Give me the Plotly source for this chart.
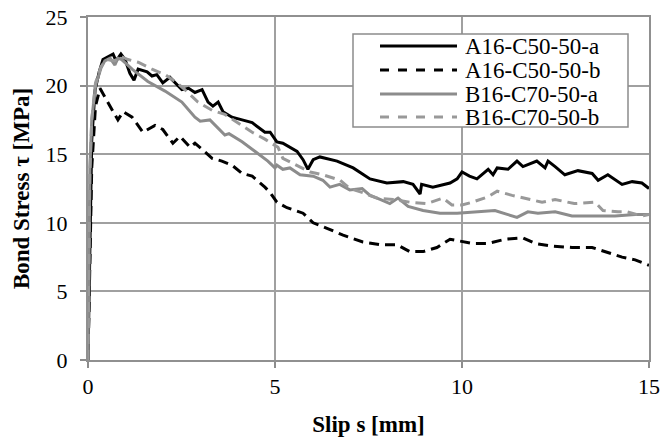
import plotly.graph_objects as go

# A16-C50-50-a (black solid)
aa_x = [0, 0.03, 0.06, 0.1, 0.19, 0.3, 0.4, 0.53, 0.67, 0.75, 0.88, 0.99, 1.12, 1.23, 1.34, 1.58, 1.71, 1.84,
        2.0, 2.19, 2.33, 2.51, 2.69, 2.86, 3.05, 3.21, 3.34, 3.48, 3.61, 3.85, 4.12, 4.39, 4.73, 4.87, 5.05,
        5.21, 5.59, 5.75, 5.88, 6.02, 6.2, 6.66, 7.09, 7.54, 7.99, 8.43, 8.69, 8.88, 8.92, 9.22, 9.68, 9.87,
        10.0, 10.2, 10.4, 10.7, 10.83, 10.94, 11.23, 11.47, 11.63, 12.0, 12.22, 12.3, 12.49, 12.75, 13.1,
        13.48, 13.64, 13.9, 14.28, 14.55, 14.81, 15.0]
aa_y = [0, 5, 12, 16, 19.7, 21.0, 21.9, 22.1, 22.3, 21.8, 22.3, 21.9, 20.9, 20.4, 21.2, 21.0, 20.7, 20.8,
        20.2, 20.6, 20.2, 19.7, 19.8, 19.5, 19.7, 18.8, 18.5, 18.8, 18.1, 17.7, 17.5, 17.3, 16.6, 16.6, 15.9,
        15.8, 15.2, 14.6, 13.9, 14.6, 14.8, 14.5, 14.0, 13.2, 12.9, 13.0, 12.8, 12.1, 12.8, 12.6, 12.9, 13.2,
        13.7, 13.4, 13.2, 13.9, 13.5, 14.0, 13.9, 14.5, 14.1, 14.5, 14.0, 14.5, 14.1, 13.5, 13.8,
        13.6, 13.1, 13.5, 12.8, 13.0, 12.9, 12.5]

# A16-C50-50-b (black dashed)
ab_x = [0, 0.05, 0.1, 0.2, 0.32, 0.59, 0.8, 0.94, 1.18, 1.47, 1.79, 2.0, 2.27, 2.46, 2.73, 2.86, 3.07, 3.32,
        3.58, 3.85, 4.12, 4.39, 4.73, 4.87, 5.05, 5.32, 5.75, 6.02, 6.39, 6.82, 7.35, 7.81, 8.26, 8.6, 8.96,
        9.33, 9.68, 10.13, 10.27, 10.7, 11.15, 11.63, 11.95, 12.4, 12.94, 13.48, 13.82, 14.28, 14.63, 15.0]
ab_y = [0, 8, 14, 18.5, 19.8, 18.5, 17.5, 18.1, 17.7, 16.6, 17.1, 16.8, 15.8, 16.3, 15.5, 15.8, 15.3, 14.7,
        14.5, 14.2, 13.6, 13.4, 12.6, 12.2, 11.5, 11.1, 10.7, 10.0, 9.6, 9.1, 8.6, 8.4, 8.4, 7.9, 7.9,
        8.2, 8.8, 8.6, 8.5, 8.5, 8.8, 8.9, 8.5, 8.3, 8.2, 8.2, 7.9, 7.5, 7.3, 6.9]

# B16-C70-50-a (grey solid)
ba_x = [0, 0.02, 0.05, 0.1, 0.2, 0.35, 0.45, 0.59, 0.72, 0.8, 0.9, 1.18, 1.6, 2.06, 2.51, 2.86, 3.0, 3.26,
        3.48, 3.66, 3.77, 4.12, 4.47, 4.81, 5.0, 5.05, 5.21, 5.4, 5.67, 6.02, 6.28, 6.47, 6.73, 7.0, 7.33,
        7.54, 7.81, 8.07, 8.29, 8.56, 8.96, 9.41, 9.87, 10.35, 10.88, 11.23, 11.47, 11.76, 12.03, 12.49,
        12.94, 13.56, 14.09, 14.63, 15.0]
ba_y = [0, 8, 14, 17.5, 20.0, 21.3, 21.8, 22.0, 21.5, 22.0, 21.9, 21.2, 20.3, 19.6, 18.8, 17.7, 17.4, 17.5,
        16.9, 16.4, 16.5, 15.9, 15.2, 14.5, 14.0, 14.2, 13.9, 14.0, 13.5, 13.4, 13.1, 12.6, 12.8, 12.4, 12.5,
        12.0, 11.7, 11.4, 11.8, 11.2, 10.9, 10.7, 10.7, 10.8, 10.9, 10.6, 10.4, 10.8, 10.7, 10.8,
        10.5, 10.5, 10.5, 10.6, 10.6]

# B16-C70-50-b (grey dashed)
bb_x = [0, 0.02, 0.05, 0.1, 0.2, 0.35, 0.5, 0.7, 0.9, 1.07, 1.34, 1.71, 2.06, 2.33, 2.59, 2.94, 3.32, 3.66,
        4.01, 4.39, 4.73, 5.08, 5.21, 5.59, 5.94, 6.28, 6.74, 7.0, 7.35, 7.73, 8.16, 8.61, 9.06, 9.49, 9.73,
        10.0, 10.27, 10.7, 10.94, 11.34, 11.87, 12.14, 12.49, 13.0, 13.56, 13.77, 14.17, 14.41, 14.81, 15.0]
bb_y = [0, 7, 13.5, 17.5, 20.2, 21.4, 21.9, 21.8, 22.1, 21.9, 21.7, 21.2, 20.8, 20.3, 19.7, 18.8, 18.2, 17.9,
        17.3, 16.6, 16.1, 15.5, 14.7, 14.2, 13.7, 13.5, 13.1, 12.5, 12.2, 11.8, 11.7, 11.5, 11.4, 11.8, 11.3,
        11.3, 11.5, 11.9, 12.3, 12.0, 11.7, 11.5, 11.7, 11.4, 11.5, 10.9, 10.8, 10.8, 10.5, 10.6]

names = ["A16-C50-50-a", "A16-C50-50-b", "B16-C70-50-a", "B16-C70-50-b"]
x_ticks = [0, 5, 10, 15]
y_ticks = [0, 5, 10, 15, 20, 25]

SERIF = "Liberation Serif, Times New Roman, serif"
BLACK = "#000000"
GREY = "#8c8c8c"
GREY2 = "#999999"
DASH = "10px,6px"

W, H = 661, 439
ML, MR, MT, MB = 88, 12, 17, 79
PW, PH = W - ML - MR, H - MT - MB


def px2paper(px, py):
    return (px - ML) / PW, (H - MB - py) / PH


fig = go.Figure()
series = [
    (aa_x, aa_y, names[0], BLACK, "solid"),
    (ab_x, ab_y, names[1], BLACK, DASH),
    (ba_x, ba_y, names[2], GREY, "solid"),
    (bb_x, bb_y, names[3], GREY2, DASH),
]
for xs, ys, nm, col, dash in series:
    fig.add_trace(go.Scatter(x=xs, y=ys, name=nm, mode="lines", showlegend=False,
                             line=dict(color=col, width=3, dash=dash)))

# Legend drawn as a box with line samples and text labels
shapes = []
annotations = []
bx0, by0 = px2paper(353, 127)
bx1, by1 = px2paper(628, 34)
shapes.append(dict(type="rect", xref="paper", yref="paper", x0=bx0, y0=by0, x1=bx1, y1=by1,
                   line=dict(color="#8c8c8c", width=1.5), fillcolor="white", layer="above"))
row_y = [46, 70, 94, 117]
for (xs, ys, nm, col, dash), ry in zip(series, row_y):
    lx0, ly = px2paper(380, ry)
    lx1, _ = px2paper(457, ry)
    shapes.append(dict(type="line", xref="paper", yref="paper", x0=lx0, y0=ly, x1=lx1, y1=ly,
                       line=dict(color=col, width=3, dash="dash" if dash != "solid" else "solid"),
                       layer="above"))
    tx, _ = px2paper(463, ry)
    annotations.append(dict(xref="paper", yref="paper", x=tx, y=ly, xanchor="left", yanchor="middle",
                            text=nm, showarrow=False, height=22, valign="middle",
                            font=dict(family=SERIF, size=23, color="black")))

fig.update_layout(
    width=W, height=H,
    margin=dict(l=ML, r=MR, t=MT, b=MB),
    paper_bgcolor="white", plot_bgcolor="white",
    font=dict(family=SERIF, size=22, color="black"),
    showlegend=False,
    shapes=shapes,
    annotations=annotations,
)
fig.update_xaxes(range=[0, 15], tickvals=x_ticks, ticktext=[str(v) for v in x_ticks],
                 automargin=False, ticklabeloverflow="allow",
                 showgrid=True, gridcolor="#a0a0a0", gridwidth=1.5,
                 showline=True, linecolor="#909090", linewidth=2, mirror=True,
                 ticks="outside", ticklen=6, tickcolor="#8c8c8c", tickwidth=1.5,
                 zeroline=False, tickfont=dict(family=SERIF, size=22),
                 title=dict(text="<b>Slip s [mm]</b>", font=dict(family=SERIF, size=23), standoff=17))
fig.update_yaxes(range=[0, 25], tickvals=y_ticks, ticktext=[str(v) for v in y_ticks],
                 automargin=False, ticklabeloverflow="allow",
                 showgrid=True, gridcolor="#a0a0a0", gridwidth=1.5,
                 showline=True, linecolor="#909090", linewidth=2, mirror=True,
                 ticks="outside", ticklen=6, tickcolor="#8c8c8c", tickwidth=1.5,
                 ticklabelstandoff=8,
                 zeroline=False, tickfont=dict(family=SERIF, size=22),
                 title=dict(text="<b>Bond Stress τ [MPa]</b>", font=dict(family=SERIF, size=23), standoff=10))

# remove the browser's default page margin so the figure fills the window exactly
fig.write_html("out.html", config={"displayModeBar": False},
               post_script="document.body.style.margin='0px';")
